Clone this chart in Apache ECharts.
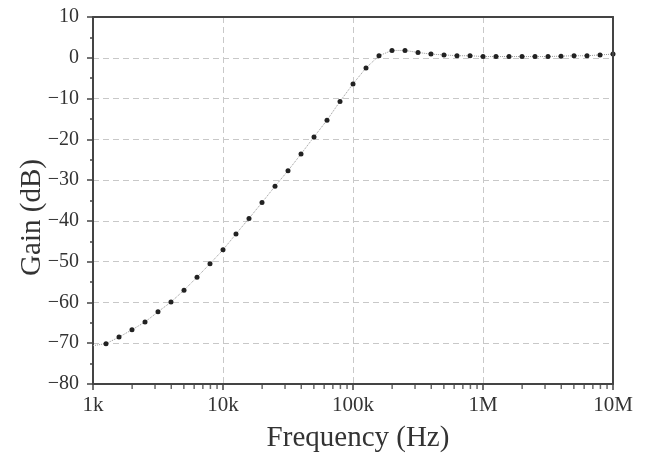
<!DOCTYPE html>
<html><head><meta charset="utf-8">
<script src="https://cdn.jsdelivr.net/npm/echarts@6/dist/echarts.min.js"></script>
<style>html,body{margin:0;padding:0;background:#fff}#c{width:653px;height:454px}</style>
</head><body><div id="c"></div>
<script>
// Frequencies (Hz) of the measured points
var freq = [1000, 1259, 1585, 1995, 2512, 3162, 3981, 5012, 6310, 7943,
  10000, 12589, 15849, 19953, 25119, 31623, 39811, 50119, 63096, 79433,
  100000, 125893, 158489, 199526, 251189, 316228, 398107, 501187, 630957, 794328,
  1000000, 1258925, 1584893, 1995262, 2511886, 3162278, 3981072, 5011872, 6309573, 7943282, 10000000];
// Gain (dB)
var gain = [-70.6, -70.1, -68.5, -66.7, -64.8, -62.3, -59.9, -57.0, -53.8, -50.5,
  -47.1, -43.2, -39.4, -35.5, -31.5, -27.7, -23.6, -19.4, -15.3, -10.7,
  -6.4, -2.5, 0.5, 1.8, 1.8, 1.3, 0.9, 0.7, 0.5, 0.5,
  0.3, 0.3, 0.3, 0.3, 0.3, 0.3, 0.4, 0.5, 0.5, 0.7, 0.9];
// Minor tick positions on the frequency axis
var minorFreq = [2000,3000,4000,5000,6000,7000,8000,9000,
  20000,30000,40000,50000,60000,70000,80000,90000,
  200000,300000,400000,500000,600000,700000,800000,900000,
  2000000,3000000,4000000,5000000,6000000,7000000,8000000,9000000];
var xTickValues = [1000, 10000, 100000, 1000000, 10000000];
var xTickLabels = ['1k', '10k', '100k', '1M', '10M'];

var lineData = freq.map(function (f, i) {
  var item = { value: [f, gain[i]] };
  if (i === 0) item.symbol = 'none';
  return item;
});

var chart = echarts.init(document.getElementById('c'));
var serif = '"Liberation Serif", "DejaVu Serif", serif';
var frameLine = { show: true, onZero: false, lineStyle: { color: '#444', width: 2 } };
chart.setOption({
  animation: false,
  backgroundColor: '#fff',
  grid: { left: 93, right: 40, top: 17, bottom: 70, show: false, containLabel: false, outerBoundsMode: 'none' },
  xAxis: [{
    type: 'log', logBase: 10, min: 1000, max: 10000000,
    name: 'Frequency (Hz)', nameLocation: 'middle', nameGap: 40, nameMoveOverlap: false,
    nameTextStyle: { fontFamily: serif, fontSize: 29, color: '#333', padding: [0, 0, 0, 10] },
    axisLine: frameLine,
    axisTick: { show: true, inside: false, length: 6, lineStyle: { color: '#444', width: 1.5 } },
    axisLabel: {
      fontFamily: serif, fontSize: 21, color: '#333', margin: 11,
      formatter: function (v) { var i = xTickValues.indexOf(Math.round(v)); return i >= 0 ? xTickLabels[i] : ''; }
    },
    splitLine: { show: true, lineStyle: { color: '#c8c8c8', type: [6, 4], width: 1 } },
    z: 1
  }, {
    type: 'log', logBase: 10, min: 1000, max: 10000000, position: 'top',
    axisLine: frameLine, axisTick: { show: false }, axisLabel: { show: false }, splitLine: { show: false }, z: 5
  }],
  yAxis: [{
    type: 'value', min: -80, max: 10, interval: 10,
    name: 'Gain (dB)', nameLocation: 'middle', nameGap: 46, nameMoveOverlap: false,
    nameTextStyle: { fontFamily: serif, fontSize: 29, color: '#333', padding: [0, 34, 0, 0] },
    axisLine: frameLine,
    axisTick: { show: true, inside: false, length: 6, lineStyle: { color: '#444', width: 1.5 } },
    minorTick: { show: true, splitNumber: 2, length: 3, lineStyle: { color: '#444', width: 1.5 } },
    axisLabel: {
      fontFamily: serif, fontSize: 20, color: '#333', margin: 14,
      formatter: function (v) { return String(v).replace('-', '\u2212'); }
    },
    splitLine: { show: true, lineStyle: { color: '#c8c8c8', type: [6, 4], width: 1 } },
    z: 1
  }, {
    type: 'value', min: -80, max: 10, interval: 10, position: 'right',
    axisLine: frameLine, axisTick: { show: false }, axisLabel: { show: false }, splitLine: { show: false }, z: 5
  }],
  series: [
    {
      type: 'line', data: lineData, symbol: 'circle', symbolSize: 5,
      itemStyle: { color: '#222' },
      lineStyle: { color: '#999', width: 1, type: 'dotted' },
      z: 3
    },
    {
      type: 'scatter', data: minorFreq.map(function (f) { return [f, -80]; }),
      symbol: 'rect', symbolSize: [1.5, 4], symbolOffset: [0, 3],
      itemStyle: { color: '#444' }, clip: false, silent: true, z: 4
    }
  ]
});
</script></body></html>
